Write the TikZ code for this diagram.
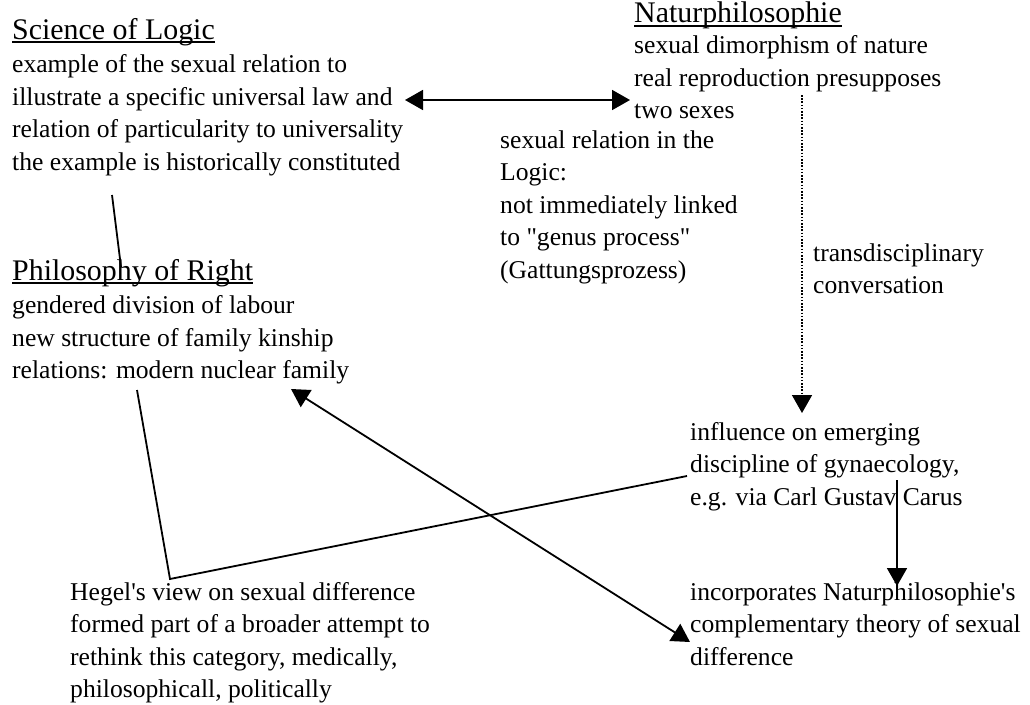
\documentclass[tikz,border=0pt]{standalone}
\usepackage{fontspec}
\setmainfont{Liberation Serif}[Ligatures=TeXOff]
\usetikzlibrary{arrows.meta}
\newcommand\bodyfont{\fontsize{25.6}{32.6}\selectfont}
\newcommand\headfont{\fontsize{29.9}{35}\selectfont}
\newlength\ulwidth
\newcommand\ulined[1]{\settowidth\ulwidth{#1}\rlap{\rule[-3.5pt]{\ulwidth}{1.4pt}}#1}
\newcommand\heading[1]{\headfont\ulined{#1}}
\begin{document}
\begin{tikzpicture}[x=1pt,y=-1pt,
  block/.style={anchor=base west, inner sep=0pt, font=\bodyfont},
  link/.style={line width=1.8pt},
  arrowhead/.style={-{Triangle[length=18pt,width=20pt]}},
  twoway/.style={{Triangle[length=18pt,width=20pt]}-{Triangle[length=18pt,width=20pt]}},
  dots/.style={line width=1.6pt, dash pattern=on 1.6pt off 1.6pt}]
\useasboundingbox (0,0) rectangle (1030,704);

% text blocks (positions are first-line baselines)
\node[block] (logic) at (12,39) {\begin{tabular}[t]{@{}l@{}}\heading{Science of Logic}\\[1pt]
  example of the sexual relation to\\
  illustrate a specific universal law and\\
  relation of particularity to universality\\
  the example is historically constituted\end{tabular}};
\node[block] (natur) at (634,23) {\begin{tabular}[t]{@{}l@{}}\heading{Naturphilosophie}\\[-2pt]
  sexual dimorphism of nature\\
  real reproduction presupposes\\
  two sexes\end{tabular}};
\node[block] (mid) at (500,148) {\begin{tabular}[t]{@{}l@{}}sexual relation in the\\
  Logic:\\
  not immediately linked\\
  to "genus process"\\
  (Gattungsprozess)\end{tabular}};
\node[block] (trans) at (813,261) {\begin{tabular}[t]{@{}l@{}}transdisciplinary\\
  conversation\end{tabular}};
\node[block] (right) at (12,280) {\begin{tabular}[t]{@{}l@{}}\heading{Philosophy of Right}\\[1pt]
  gendered division of labour\\
  new structure of family kinship\\
  relations: modern nuclear family\end{tabular}};
\node[block] (infl) at (690,440) {\begin{tabular}[t]{@{}l@{}}influence on emerging\\
  discipline of gynaecology,\\
  e.g. via Carl Gustav Carus\end{tabular}};
\node[block] (hegel) at (70,600) {\begin{tabular}[t]{@{}l@{}}Hegel's view on sexual difference\\
  formed part of a broader attempt to\\
  rethink this category, medically,\\
  philosophicall, politically\end{tabular}};
\node[block] (incorp) at (690,600) {\begin{tabular}[t]{@{}l@{}}incorporates Naturphilosophie's\\
  complementary theory of sexual\\
  difference\end{tabular}};

% connector end points
\coordinate (logic-e) at (405,100);
\coordinate (natur-w) at (630,100);
\coordinate (logic-s) at (112,195);
\coordinate (right-n) at (121,267);
\coordinate (natur-s) at (802,95);
\coordinate (infl-n) at (802,413);
\coordinate (infl-s) at (897,480);
\coordinate (incorp-n) at (897,586);
\coordinate (right-s) at (137,390);
\coordinate (hegel-n) at (170,579);
\coordinate (infl-w) at (687,476);
\coordinate (right-se) at (291,389);
\coordinate (incorp-w) at (690,642);

% connectors
\draw[link,twoway] (logic-e) -- (natur-w);
\draw[link] (logic-s) -- (right-n);
\draw[dots,arrowhead] (natur-s) -- (infl-n);
\draw[link,arrowhead] (infl-s) -- (incorp-n);
\draw[link] (right-s) -- (hegel-n) -- (infl-w);
\draw[link,twoway] (right-se) -- (incorp-w);
\end{tikzpicture}
\end{document}
